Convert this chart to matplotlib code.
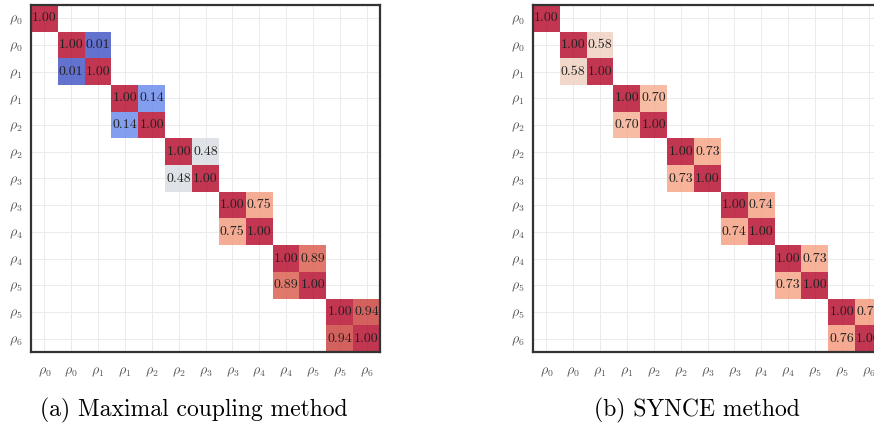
import numpy as np
import matplotlib
matplotlib.use("Agg")
import matplotlib.pyplot as plt

plt.rcParams['font.family'] = ['cmr10', 'DejaVu Serif']
plt.rcParams['mathtext.fontset'] = 'cm'
plt.rcParams['axes.formatter.use_mathtext'] = True

labels = [r'$\rho_0$', r'$\rho_0$', r'$\rho_1$', r'$\rho_1$', r'$\rho_2$', r'$\rho_2$',
          r'$\rho_3$', r'$\rho_3$', r'$\rho_4$', r'$\rho_4$', r'$\rho_5$', r'$\rho_5$', r'$\rho_6$']
# off-diagonal value of each 2x2 block (rows 1-2, 3-4, ..., 11-12)
maximal_coupling = [0.01, 0.14, 0.48, 0.75, 0.89, 0.94]
synce = [0.58, 0.70, 0.73, 0.74, 0.73, 0.76]
captions = ['(a) Maximal coupling method', '(b) SYNCE method']


def build(offdiag):
    n = len(labels)
    m = np.full((n, n), np.nan)
    m[0, 0] = 1.0
    for k, v in enumerate(offdiag):
        i = 1 + 2 * k
        m[i, i] = 1.0
        m[i + 1, i + 1] = 1.0
        m[i, i + 1] = v
        m[i + 1, i] = v
    return m


fig = plt.figure(figsize=(8.74, 4.25), dpi=100)
W, H = 874, 425
boxes = [(31, 5, 349, 347), (533, 5, 349, 347)]
cap_x = [194, 697]

for data, box, cap, cx in zip([maximal_coupling, synce], boxes, captions, cap_x):
    x0, y0, w, h = box
    ax = fig.add_axes([x0 / W, 1 - (y0 + h) / H, w / W, h / H])
    m = build(data)
    ax.set_axisbelow(True)
    ax.imshow(np.ma.masked_invalid(m), cmap='coolwarm', vmin=0, vmax=1,
              alpha=0.8, aspect='auto', zorder=2)
    n = len(labels)
    for i in range(n):
        for j in range(n):
            if not np.isnan(m[i, j]):
                ax.text(j, i, '%.2f' % m[i, j], ha='center', va='center',
                        fontsize=10, color='#222222', zorder=3)
    ax.set_xticks(range(n))
    ax.set_yticks(range(n))
    ax.set_xticklabels(labels)
    ax.set_yticklabels(labels)
    ax.tick_params(length=0, labelsize=10, labelcolor='#555555')
    ax.tick_params(axis='x', pad=10)
    ax.tick_params(axis='y', pad=6)
    ax.grid(True, color='#ebebeb', lw=0.7, zorder=0)
    ax.set_xlim(-0.5, n - 0.5)
    ax.set_ylim(n - 0.5, -0.5)
    for s in ax.spines.values():
        s.set_color('#333333')
        s.set_linewidth(1.6)
    fig.text(cx / W, 1 - 410 / H, cap, ha='center', va='center', fontsize=17)

fig.savefig('out.png', dpi=100)
